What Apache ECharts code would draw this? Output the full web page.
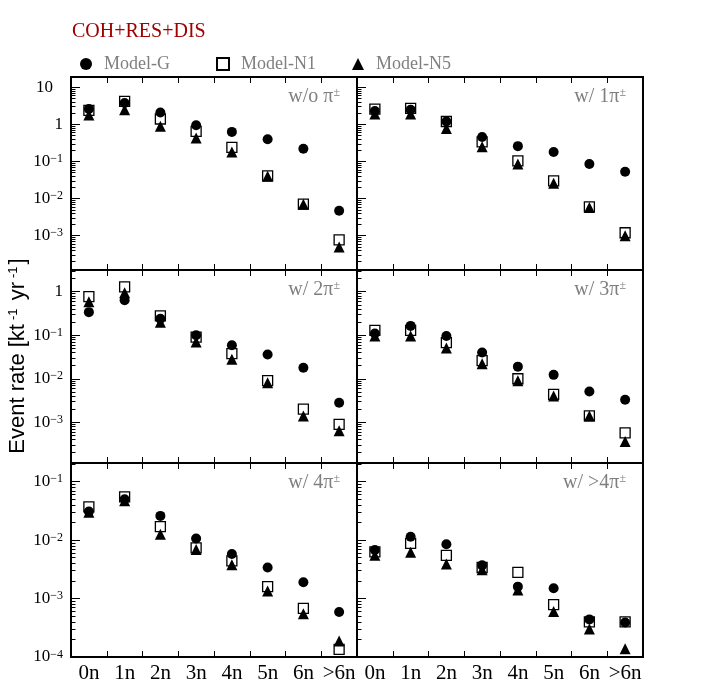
<!DOCTYPE html>
<html><head><meta charset="utf-8">
<script src="https://cdn.jsdelivr.net/npm/echarts@6/dist/echarts.min.js"></script>
<style>html,body{margin:0;padding:0;background:#fff}#c{width:715px;height:696px}</style>
</head><body><div id="c"></div>
<script>
// ---------- data ----------
const categories = ['0n', '1n', '2n', '3n', '4n', '5n', '6n', '>6n'];
const panelLabels = ['w/o π', 'w/ 1π', 'w/ 2π', 'w/ 3π', 'w/ 4π', 'w/ >4π'];
const modelNames = ['Model-G', 'Model-N1', 'Model-N5'];
const decadeTicks = [1e-4, 1e-3, 1e-2, 1e-1, 1, 10];

const modelG_0pi  = [2.6, 3.8, 2.1, 0.95, 0.63, 0.40, 0.22, 0.0047];
const modelN1_0pi = [2.4, 4.2, 1.4, 0.65, 0.24, 0.041, 0.0071, 0.00077];
const modelN5_0pi = [1.8, 2.5, 0.9, 0.43, 0.18, 0.040, 0.0070, 0.0005];

const modelG_1pi  = [2.3, 2.5, 1.2, 0.46, 0.26, 0.18, 0.086, 0.053];
const modelN1_1pi = [2.6, 2.7, 1.2, 0.34, 0.104, 0.030, 0.0060, 0.0012];
const modelN5_1pi = [1.9, 1.9, 0.78, 0.25, 0.086, 0.026, 0.0058, 0.0010];

const modelG_2pi  = [0.34, 0.64, 0.24, 0.10, 0.059, 0.036, 0.018, 0.0028];
const modelN1_2pi = [0.77, 1.3, 0.28, 0.091, 0.038, 0.0091, 0.0020, 0.0009];
const modelN5_2pi = [0.59, 0.95, 0.20, 0.070, 0.028, 0.0081, 0.0014, 0.00064];

const modelG_3pi  = [0.11, 0.164, 0.096, 0.040, 0.019, 0.0123, 0.0051, 0.0033];
const modelN1_3pi = [0.13, 0.13, 0.068, 0.026, 0.010, 0.0044, 0.0014, 0.00057];
const modelN5_3pi = [0.096, 0.096, 0.051, 0.022, 0.0090, 0.0040, 0.0014, 0.00036];

const modelG_4pi  = [0.031, 0.050, 0.026, 0.0107, 0.0058, 0.0034, 0.0019, 0.00059];
const modelN1_4pi = [0.037, 0.055, 0.017, 0.0074, 0.0044, 0.0016, 0.00068, 0.000135];
const modelN5_4pi = [0.030, 0.047, 0.0126, 0.0069, 0.0038, 0.00135, 0.00055, 0.000187];

const modelG_gt4pi  = [0.0068, 0.0114, 0.0085, 0.0037, 0.0016, 0.0015, 0.00044, 0.00039];
const modelN1_gt4pi = [0.0063, 0.0088, 0.0055, 0.0034, 0.0028, 0.00079, 0.0004, 0.0004];
const modelN5_gt4pi = [0.0055, 0.0062, 0.0039, 0.0031, 0.0014, 0.0006, 0.0003, 0.000138];

const panelData = [
  [modelG_0pi, modelN1_0pi, modelN5_0pi],
  [modelG_1pi, modelN1_1pi, modelN5_1pi],
  [modelG_2pi, modelN1_2pi, modelN5_2pi],
  [modelG_3pi, modelN1_3pi, modelN5_3pi],
  [modelG_4pi, modelN1_4pi, modelN5_4pi],
  [modelG_gt4pi, modelN1_gt4pi, modelN5_gt4pi]
];

// ---------- layout ----------
const SERIF = '"Liberation Serif","Times New Roman",serif';
const SANS = '"Liberation Sans",Arial,sans-serif';
const GRAY = '#7f7f7f';
const colX = [71, 357], colW = 286;
const rowY = [77, 270, 463], rowH = [193, 193, 194];
const rowRange = [[1.19e-4, 19], [1.16e-4, 3.16], [1e-4, 0.209]];

const markerStyles = [
  { symbol: 'circle', symbolSize: 10, itemStyle: { color: '#000', opacity: 1 } },
  { symbol: 'rect', symbolSize: 10, itemStyle: { color: 'rgba(0,0,0,0)', borderColor: '#000', borderWidth: 1.3, opacity: 1 } },
  { symbol: 'triangle', symbolSize: 11, itemStyle: { color: '#000', opacity: 1 } }
];

// minor tick positions 2..9 x 10^n (axis decoration only)
const minorTickValues = [];
decadeTicks.forEach(d => { for (let k = 2; k <= 9; k++) minorTickValues.push(+(k * d).toPrecision(3)); });

function logLabel(v) {
  const l = Math.log10(v);
  const e = Math.round(l);
  if (Math.abs(l - e) > 1e-6) return '';
  if (e === 0) return '1';
  if (e === 1) return '10{p| }';
  return '10{e|' + (e < 0 ? '\u2212' : '') + Math.abs(e) + '}';
}

const grids = [], xAxes = [], yAxes = [], series = [], graphics = [];
for (let p = 0; p < 6; p++) {
  const r = Math.floor(p / 2), c = p % 2;
  const lo = rowRange[r][0], hi = rowRange[r][1];
  const majors = decadeTicks.filter(v => v >= lo * 0.9999 && v <= hi);
  const minors = minorTickValues.filter(v => v > lo && v < hi);
  grids.push({
    left: colX[c], top: rowY[r], width: colW, height: rowH[r],
    show: true, borderColor: '#000', borderWidth: 2, backgroundColor: 'transparent',
    containLabel: false, outerBoundsMode: 'none'
  });
  const tickCommon = { show: true, inside: true, length: 6, interval: 0, alignWithLabel: false, lineStyle: { color: '#000', width: 1 } };
  xAxes.push({
    type: 'category', gridIndex: p, data: categories, position: 'bottom', boundaryGap: true,
    axisLine: { show: false }, axisTick: tickCommon,
    axisLabel: { show: r === 2, interval: 0, margin: 6, color: '#000', fontFamily: SERIF, fontSize: 21 },
    splitLine: { show: false }
  });
  xAxes.push({
    type: 'category', gridIndex: p, data: categories, position: 'top', boundaryGap: true,
    axisLine: { show: false }, axisTick: tickCommon, axisLabel: { show: false }, splitLine: { show: false }
  });
  yAxes.push({
    type: 'log', logBase: 10, gridIndex: p, min: lo, max: hi, position: 'left',
    axisLine: { show: false },
    axisTick: { show: true, inside: true, length: 9, customValues: majors, lineStyle: { color: '#000', width: 1 } },
    minorTick: { show: false },
    splitLine: { show: false }, minorSplitLine: { show: false },
    axisLabel: {
      show: c === 0, customValues: majors, formatter: logLabel, margin: 8, color: '#000', fontFamily: SERIF, fontSize: 17,
      showMinLabel: true, showMaxLabel: true,
      rich: {
        e: { fontSize: 12, fontFamily: SERIF, color: '#000', verticalAlign: 'top' },
        p: { width: 10 }
      }
    }
  });
  yAxes.push({
    type: 'log', logBase: 10, gridIndex: p, min: lo, max: hi, position: 'left', offset: 0,
    axisLine: { show: false },
    axisTick: { show: true, inside: true, length: 4.5, customValues: minors, lineStyle: { color: '#000', width: 1 } },
    minorTick: { show: false },
    splitLine: { show: false }, axisLabel: { show: false }
  });
  for (let m = 0; m < 3; m++) {
    series.push(Object.assign({
      type: 'scatter', name: modelNames[m], xAxisIndex: 2 * p, yAxisIndex: 2 * p,
      data: panelData[p][m], z: 3 + m, silent: true
    }, JSON.parse(JSON.stringify(markerStyles[m]))));
  }
  graphics.push({
    type: 'text', right: 715 - (colX[c] + colW - 17), top: rowY[r] + 10,
    style: {
      text: panelLabels[p] + '{s|±}', fill: GRAY, font: '20px ' + SERIF,
      rich: { s: { fontSize: 12, fontFamily: SERIF, fill: GRAY, verticalAlign: 'top' } }
    }
  });
}

graphics.push({
  type: 'text', left: 72, top: 22,
  style: { text: 'COH+RES+DIS', fill: '#a00000', font: '20px ' + SERIF }
});
graphics.push({
  type: 'text', x: 18, y: 356, rotation: Math.PI / 2,
  style: {
    text: 'Event rate [kt{s|-1} yr{s|-1}]', fill: '#000', font: '22px ' + SANS,
    align: 'center', verticalAlign: 'middle',
    rich: { s: { fontSize: 13, fontFamily: SANS, fill: '#000', verticalAlign: 'top', padding: [0, 2, 0, 4] } }
  }
});

const legendLeft = [75, 211, 347];
const legendIcons = ['circle', 'rect', 'triangle'];
const legends = modelNames.map((n, i) => ({
  left: legendLeft[i], top: 50, orient: 'horizontal',
  itemWidth: 12, itemHeight: 12, selectedMode: false,
  data: [{ name: n, icon: legendIcons[i] }],
  textStyle: { color: GRAY, fontFamily: SERIF, fontSize: 18, padding: [0, 0, 0, 7] }
}));

const chart = echarts.init(document.getElementById('c'), null, { renderer: 'canvas' });
chart.setOption({
  animation: false,
  backgroundColor: '#fff',
  grid: grids, xAxis: xAxes, yAxis: yAxes, series: series,
  legend: legends, graphic: graphics
});
</script>
</body></html>
